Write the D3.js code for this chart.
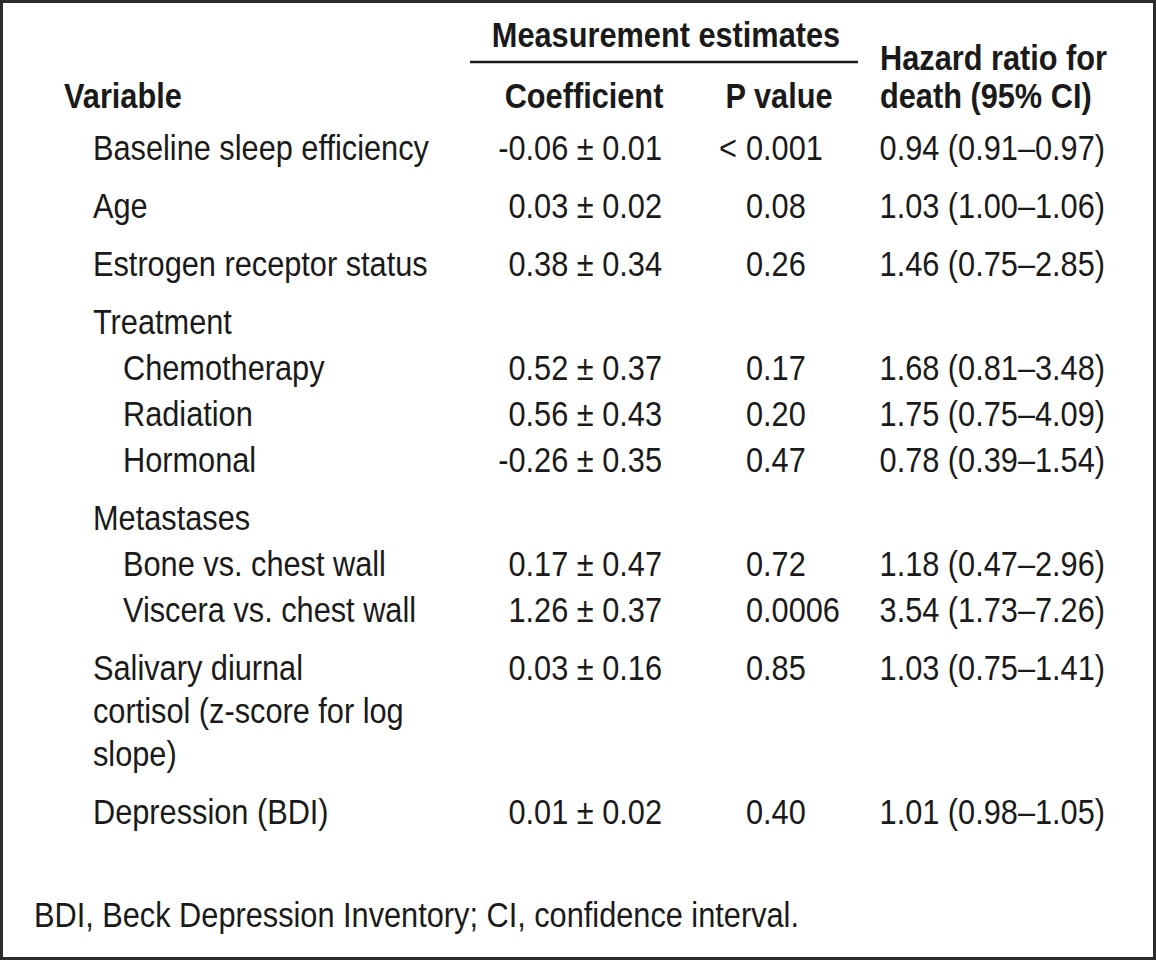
<!DOCTYPE html>
<html>
<head>
<meta charset="utf-8">
<script src="https://cdn.jsdelivr.net/npm/d3@7"></script>
<style>
  html, body { margin: 0; padding: 0; background: #fff; }
  svg { display: block; }
  text { font-family: "Liberation Sans", Arial, Helvetica, sans-serif; fill: #1a1a1a; }
</style>
</head>
<body>
<svg id="chart" width="1156" height="960"></svg>
<script>
// ---- Data ----
const variables = [
  "Baseline sleep efficiency",
  "Age",
  "Estrogen receptor status",
  "Treatment",
  "Chemotherapy",
  "Radiation",
  "Hormonal",
  "Metastases",
  "Bone vs. chest wall",
  "Viscera vs. chest wall",
  "Salivary diurnal\ncortisol (z-score for log\nslope)",
  "Depression (BDI)"
];
const levels = [0, 0, 0, 0, 1, 1, 1, 0, 1, 1, 0, 0];
const coefficients = [
  "-0.06 ± 0.01", "0.03 ± 0.02", "0.38 ± 0.34", "",
  "0.52 ± 0.37", "0.56 ± 0.43", "-0.26 ± 0.35", "",
  "0.17 ± 0.47", "1.26 ± 0.37", "0.03 ± 0.16", "0.01 ± 0.02"
];
const pValues = [
  "< 0.001", "0.08", "0.26", "",
  "0.17", "0.20", "0.47", "",
  "0.72", "0.0006", "0.85", "0.40"
];
const hazardRatios = [
  "0.94 (0.91–0.97)", "1.03 (1.00–1.06)", "1.46 (0.75–2.85)", "",
  "1.68 (0.81–3.48)", "1.75 (0.75–4.09)", "0.78 (0.39–1.54)", "",
  "1.18 (0.47–2.96)", "3.54 (1.73–7.26)", "1.03 (0.75–1.41)", "1.01 (0.98–1.05)"
];
const spannerHeader = "Measurement estimates";
const columnHeaders = ["Variable", "Coefficient", "P value"];
const hazardHeader = ["Hazard ratio for", "death (95% CI)"];
const footnote = "BDI, Beck Depression Inventory; CI, confidence interval.";

// ---- Layout ----
const W = 1156, H = 960;
const FS = 35.5;
const svg = d3.select("#chart");

// measure horizontal condense factor
const probe = svg.append("text").attr("font-size", FS).text("Baseline sleep efficiency");
const k = 336 / probe.node().getComputedTextLength();
probe.remove();

function put(sel, x, y, anchor, bold) {
  return sel.attr("transform", `translate(${x},${y}) scale(${k},1)`)
    .attr("text-anchor", anchor)
    .attr("font-size", FS)
    .attr("font-weight", bold ? "bold" : "normal");
}

// border
svg.append("rect")
  .attr("x", 1.5).attr("y", 1.5)
  .attr("width", W - 3).attr("height", H - 3)
  .attr("fill", "none").attr("stroke", "#2b2b2b").attr("stroke-width", 3);

// column x positions via ordinal scale
const colX = d3.scaleOrdinal()
  .domain(["label0", "label1", "coef", "p", "hr", "varHead", "coefHead", "pHead", "spanner", "hrHead", "foot"])
  .range([93, 123, 662, 746, 1105, 64, 584, 779, 666, 880, 34]);

// row baselines (computed cumulatively)
const firstBaseline = 160, groupStep = 58, childStep = 46, wrapStep = 43;
const rowY = [];
let cur = firstBaseline;
variables.forEach((v, i) => {
  if (i > 0) {
    const prevLines = variables[i - 1].split("\n").length;
    cur += (prevLines - 1) * wrapStep;
    cur += levels[i] === 0 ? groupStep : childStep;
  }
  rowY.push(cur);
});
const yScale = d3.scaleOrdinal().domain(d3.range(variables.length)).range(rowY);

// headers
put(svg.append("text").text(spannerHeader), colX("spanner"), 47, "middle", true);
svg.append("line")
  .attr("x1", 470).attr("x2", 858).attr("y1", 62).attr("y2", 62)
  .attr("stroke", "#1a1a1a").attr("stroke-width", 2.5);
put(svg.append("text").text(columnHeaders[0]), colX("varHead"), 108, "start", true);
put(svg.append("text").text(columnHeaders[1]), colX("coefHead"), 108, "middle", true);
put(svg.append("text").text(columnHeaders[2]), colX("pHead"), 108, "middle", true);
put(svg.append("text").text(hazardHeader[0]), colX("hrHead"), 70, "start", true);
put(svg.append("text").text(hazardHeader[1]), colX("hrHead"), 108, "start", true);

// body rows
const rows = svg.append("g").selectAll("g.row")
  .data(variables.map((v, i) => i))
  .join("g").attr("class", "row");

rows.each(function(i) {
  const g = d3.select(this);
  const y = yScale(i);
  const lines = variables[i].split("\n");
  lines.forEach((ln, j) => {
    put(g.append("text").text(ln), colX(levels[i] ? "label1" : "label0"), y + j * wrapStep, "start", false);
  });
  if (coefficients[i]) put(g.append("text").text(coefficients[i]), colX("coef"), y, "end", false);
  if (pValues[i]) {
    const m = pValues[i].match(/^(<\s)?(.*)$/);
    if (m[1]) put(g.append("text").text("<"), colX("p") - 9, y, "end", false);
    put(g.append("text").text(m[2]), colX("p"), y, "start", false);
  }
  if (hazardRatios[i]) put(g.append("text").text(hazardRatios[i]), colX("hr"), y, "end", false);
});

// footnote
put(svg.append("text").text(footnote), colX("foot"), 927, "start", false);
</script>
</body>
</html>
